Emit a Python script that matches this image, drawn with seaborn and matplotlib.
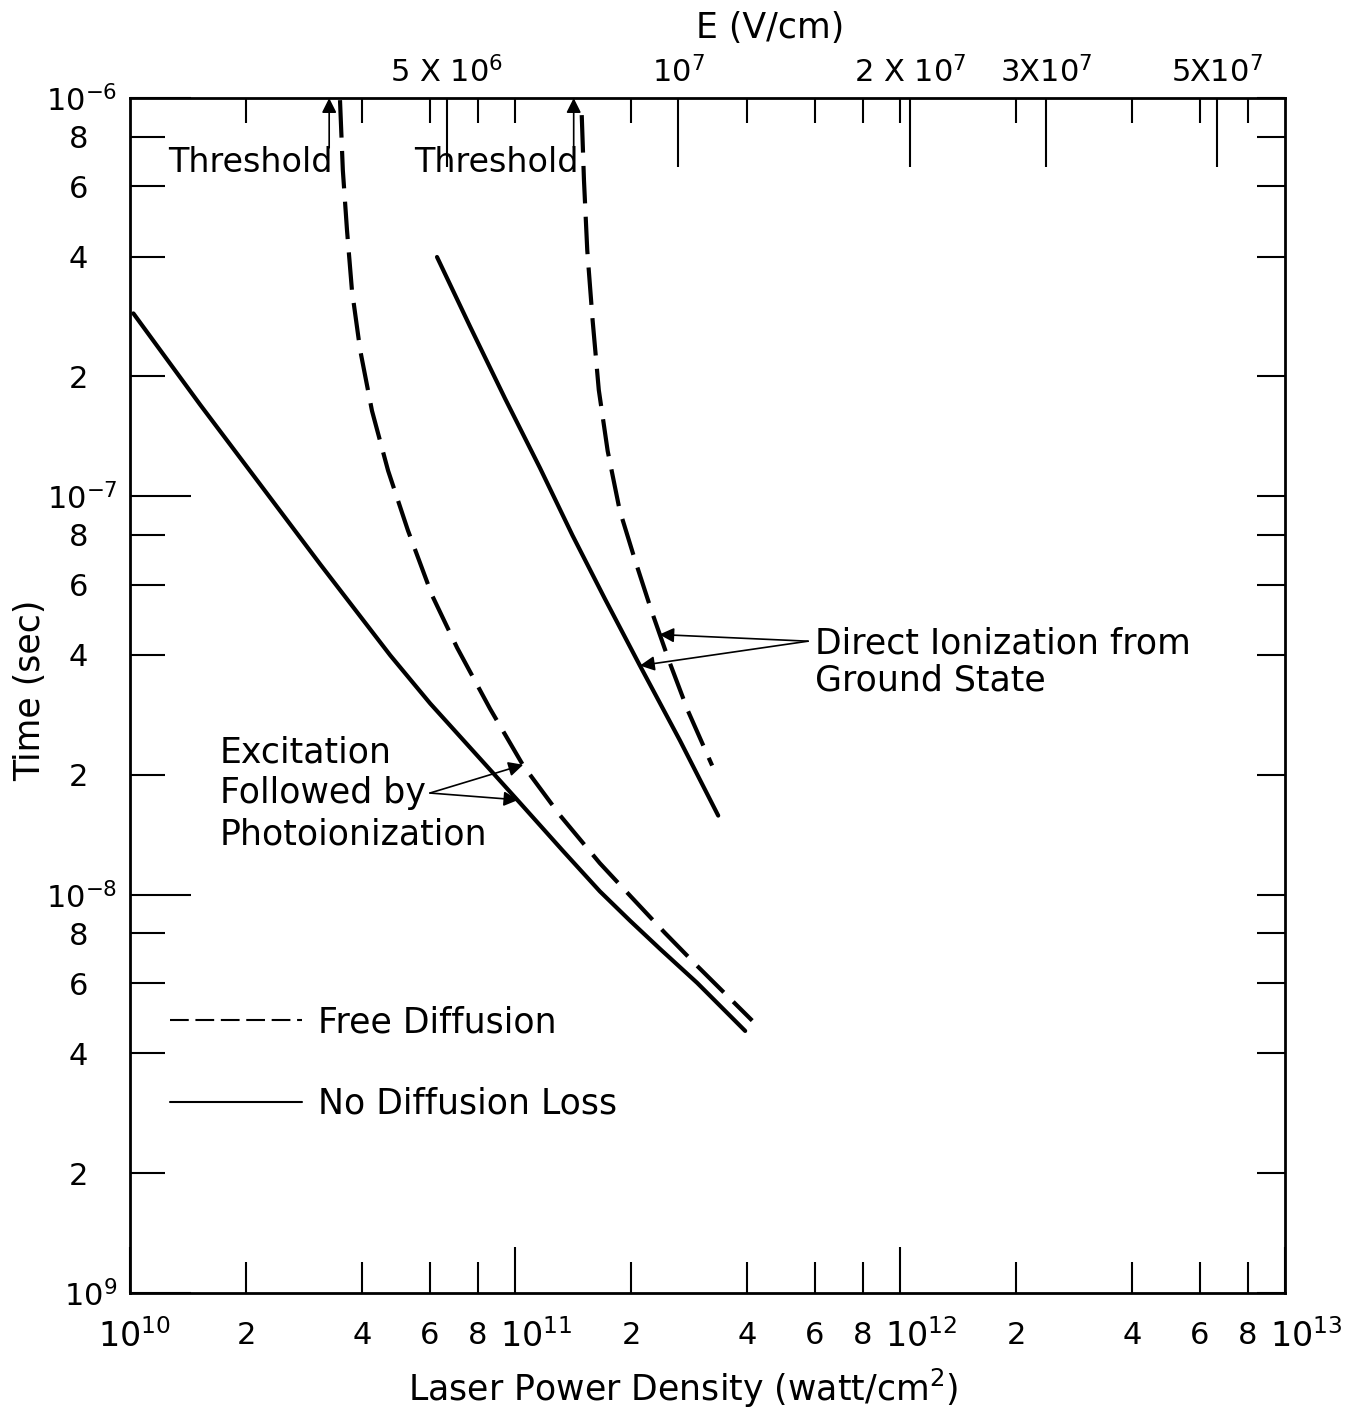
import numpy as np
import pandas as pd
import matplotlib
matplotlib.use("Agg")
import matplotlib.pyplot as plt
from matplotlib.ticker import NullFormatter, NullLocator
import seaborn as sns

# Breakdown time (s) versus laser power density (W/cm^2)
# Excitation followed by photoionization
power_exc_nodiff = [1.02e10, 1.52e10, 2.18e10, 3.12e10, 4.74e10, 6.02e10, 8.77e10,
                    1.03e11, 1.33e11, 1.66e11, 1.99e11, 2.38e11, 2.97e11, 3.96e11]
time_exc_nodiff = [2.88e-7, 1.70e-7, 1.07e-7, 6.75e-8, 3.99e-8, 3.02e-8, 2.02e-8,
                   1.70e-8, 1.29e-8, 1.02e-8, 8.60e-9, 7.31e-9, 6.01e-9, 4.55e-9]
power_exc_free = [3.51e10, 3.57e10, 3.66e10, 3.77e10, 3.96e10, 4.25e10, 4.68e10,
                  5.27e10, 6.09e10, 7.07e10, 8.61e10, 1.05e11, 1.31e11, 1.66e11,
                  1.99e11, 2.45e11, 2.97e11, 4.13e11]
time_exc_free = [9.88e-7, 6.59e-7, 4.66e-7, 3.29e-7, 2.33e-7, 1.64e-7, 1.16e-7,
                 8.21e-8, 5.64e-8, 4.17e-8, 2.93e-8, 2.11e-8, 1.58e-8, 1.20e-8,
                 9.94e-9, 8.02e-9, 6.63e-9, 4.83e-9]
# Direct ionization from the ground state
power_dir_nodiff = [6.27e10, 7.64e10, 9.42e10, 1.16e11, 1.41e11, 1.71e11,
                    2.11e11, 2.68e11, 3.37e11]
time_dir_nodiff = [3.99e-7, 2.67e-7, 1.76e-7, 1.18e-7, 7.98e-8, 5.54e-8,
                   3.76e-8, 2.44e-8, 1.58e-8]
power_dir_free = [1.49e11, 1.51e11, 1.54e11, 1.59e11, 1.65e11, 1.74e11,
                  1.87e11, 2.05e11, 2.26e11, 2.51e11, 2.81e11, 3.25e11]
time_dir_free = [9.06e-7, 6.22e-7, 4.15e-7, 2.77e-7, 1.85e-7, 1.30e-7,
                 9.22e-8, 6.91e-8, 5.17e-8, 3.87e-8, 2.90e-8, 2.11e-8]

# Breakdown thresholds (W/cm^2)
threshold_power = [3.29e10, 1.42e11]

# Axis ticks and labels
x_major = [1e10, 1e11, 1e12, 1e13]
x_major_labels = ["$10^{10}$", "$10^{11}$", "$10^{12}$", "$10^{13}$"]
x_minor_mult = [2, 4, 6, 8]
x_minor_labels = ["2", "4", "6", "8"]
y_major = [1e-9, 1e-8, 1e-7, 1e-6]
y_major_labels = ["$10^{9}$", "$10^{-8}$", "$10^{-7}$", "$10^{-6}$"]
y_minor_mult = [2, 4, 6, 8]
y_minor_labels = ["2", "4", "6", "8"]
field_ticks = [5e6, 1e7, 2e7, 3e7, 5e7]
field_labels = ["5 X $10^{6}$", "$10^{7}$", "2 X $10^{7}$", "3X$10^{7}$", "5X$10^{7}$"]

FIELD_PER_SQRT_POWER = 19.4  # rms field in V/cm per sqrt(W/cm^2)


def power_to_field(p):
    return FIELD_PER_SQRT_POWER * np.sqrt(np.clip(p, 1e-300, None))


def field_to_power(e):
    return (np.asarray(e) / FIELD_PER_SQRT_POWER) ** 2


def identity(v):
    return v


sns.set_theme(style="ticks", rc={
    "axes.edgecolor": "black", "axes.linewidth": 2.0, "text.color": "black",
    "xtick.color": "black", "ytick.color": "black", "axes.labelcolor": "black",
})
plt.rcParams["font.family"] = ["DejaVu Sans"]

curves = [
    ("Excitation", "No Diffusion Loss", power_exc_nodiff, time_exc_nodiff),
    ("Excitation", "Free Diffusion", power_exc_free, time_exc_free),
    ("Direct", "No Diffusion Loss", power_dir_nodiff, time_dir_nodiff),
    ("Direct", "Free Diffusion", power_dir_free, time_dir_free),
]
df = pd.concat(
    [pd.DataFrame({"power": p, "time": t, "process": proc, "diffusion": diff})
     for proc, diff, p, t in curves],
    ignore_index=True,
)

fig = plt.figure(figsize=(13.59, 14.13), dpi=100)
ax = fig.add_axes([0.0957, 0.0849, 0.8499, 0.8457])
ax.set_xscale("log")
ax.set_yscale("log")
ax.set_xlim(1e10, 1e13)
ax.set_ylim(1e-9, 1e-6)

sns.lineplot(
    data=df, x="power", y="time", style="diffusion", units="process",
    estimator=None, color="black", linewidth=3.0,
    style_order=["Free Diffusion", "No Diffusion Loss"],
    dashes={"Free Diffusion": (9, 3.2), "No Diffusion Loss": ""},
    ax=ax,
)
ax.set_xlabel("")
ax.set_ylabel("")

# Bottom axis: power density
x_minor = [m * d for d in x_major[:-1] for m in x_minor_mult]
ax.set_xticks(x_major, labels=[""] * len(x_major))
ax.set_xticks(x_minor, labels=x_minor_labels * (len(x_major) - 1), minor=True)
ax.tick_params(axis="x", which="major", direction="in", length=33, width=1.5,
               top=False, bottom=True)
ax.tick_params(axis="x", which="minor", direction="in", length=22, width=1.5,
               pad=20, labelsize=22, top=False, bottom=True)
# decade labels sit just right of their ticks, clear of the "8"
for i, (xv, lab) in enumerate(zip(x_major, x_major_labels)):
    ax.annotate(lab, xy=(xv, 0), xycoords=("data", "axes fraction"),
                xytext=(3 if i == 0 else 15, -19), textcoords="offset points",
                ha="center", va="top", fontsize=24, annotation_clip=False)

# Left axis: time
y_minor = [m * d for d in y_major[:-1] for m in y_minor_mult]
ax.set_yticks(y_major, labels=y_major_labels)
ax.set_yticks(y_minor, labels=y_minor_labels * (len(y_major) - 1), minor=True)
ax.tick_params(axis="y", which="major", direction="in", length=44, width=1.5,
               pad=9, labelsize=22, right=False, left=True)
ax.tick_params(axis="y", which="minor", direction="in", length=25, width=1.5,
               pad=30, labelsize=22, right=False, left=True)

# Right axis: plain tick marks
secy = ax.secondary_yaxis("right", functions=(identity, identity))
secy.set_yticks(y_major + y_minor)
secy.yaxis.set_major_formatter(NullFormatter())
secy.yaxis.set_minor_locator(NullLocator())
secy.tick_params(which="major", direction="in", length=20, width=1.5)
secy.spines["right"].set_visible(False)

# Top axis: short marks at the power-density grid
secx_p = ax.secondary_xaxis("top", functions=(identity, identity))
secx_p.set_xticks(x_major[1:-1] + x_minor)
secx_p.xaxis.set_major_formatter(NullFormatter())
secx_p.xaxis.set_minor_locator(NullLocator())
secx_p.tick_params(which="major", direction="in", length=18, width=1.5)
secx_p.spines["top"].set_visible(False)

# Top axis: electric field
secx_e = ax.secondary_xaxis("top", functions=(power_to_field, field_to_power))
secx_e.set_xticks(field_ticks, labels=field_labels)
secx_e.xaxis.set_minor_locator(NullLocator())
secx_e.tick_params(which="major", direction="in", length=50, width=1.5,
                   pad=7, labelsize=22)
secx_e.tick_params(which="minor", length=0)
secx_e.spines["top"].set_visible(False)

# Axis titles
ax.text(0.479, -0.0795, "Laser Power Density (watt/cm$^2$)", transform=ax.transAxes,
        ha="center", va="center", fontsize=25)
ax.text(-0.0866, 0.5046, "Time (sec)", transform=ax.transAxes, rotation=90,
        ha="center", va="center", fontsize=25)
ax.text(0.554, 1.0586, "E (V/cm)", transform=ax.transAxes,
        ha="center", va="center", fontsize=25)

# Thresholds
arrow_kw = dict(arrowstyle="-|>", color="black", lw=1.2, mutation_scale=22,
                shrinkA=0, shrinkB=0)
for p in threshold_power:
    ax.annotate("", xy=(p, 1e-6), xytext=(p, 7.5e-7), arrowprops=arrow_kw,
                annotation_clip=False)
ax.text(3.35e10, 6.9e-7, "Threshold", ha="right", va="center", fontsize=24)
ax.text(1.46e11, 6.9e-7, "Threshold", ha="right", va="center", fontsize=24)

# Mechanism labels with pointers
ax.text(6.01e11, 4.28e-8, "Direct Ionization from", ha="left", va="center", fontsize=25)
ax.text(6.01e11, 3.45e-8, "Ground State", ha="left", va="center", fontsize=25)
ax.annotate("", xy=(2.37e11, 4.5e-8), xytext=(5.77e11, 4.33e-8), arrowprops=arrow_kw)
ax.annotate("", xy=(2.11e11, 3.76e-8), xytext=(5.77e11, 4.33e-8), arrowprops=arrow_kw)

ax.text(1.71e10, 2.28e-8, "Excitation", ha="left", va="center", fontsize=25)
ax.text(1.71e10, 1.80e-8, "Followed by", ha="left", va="center", fontsize=25)
ax.text(1.71e10, 1.42e-8, "Photoionization", ha="left", va="center", fontsize=25)
ax.annotate("", xy=(1.05e11, 2.12e-8), xytext=(6.01e10, 1.80e-8), arrowprops=arrow_kw)
ax.annotate("", xy=(1.02e11, 1.73e-8), xytext=(6.01e10, 1.80e-8), arrowprops=arrow_kw)

# Legend
sns.move_legend(ax, "center left", bbox_to_anchor=(0.0346, 0.1925), title=None,
                frameon=False, fontsize=25, handlelength=3.8, handletextpad=0.45,
                labelspacing=1.38, borderpad=0, borderaxespad=0)
for h in ax.get_legend().legend_handles:
    h.set_linewidth(1.5)

fig.savefig("out.png", dpi=100)
